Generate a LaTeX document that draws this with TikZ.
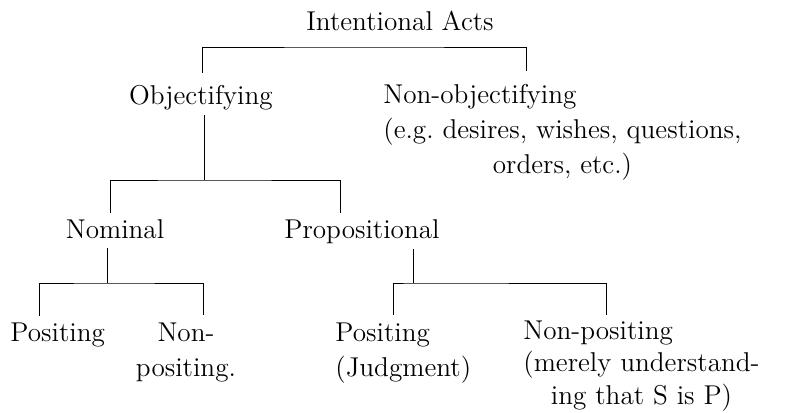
\documentclass[tikz,border=0pt]{standalone}
\usepackage{tikz}

\begin{document}
\begin{tikzpicture}[
    x=0.5pt, y=-0.5pt,         % pixel grid of the page
    label/.style={
        inner sep=0pt,
        font=\fontsize{13.6}{17.5}\selectfont
    },
    link/.style={line width=0.5pt}
]
\useasboundingbox (0,0) rectangle (786,412);

% --- Level 0 ---
\node[label, anchor=base] (acts) at (400,31) {Intentional Acts};

% --- Level 1 ---
\node[label, anchor=base] (obj) at (201,104) {Objectifying};
\node[label, anchor=base west] (nonobj) at (383,103) {%
    \begin{tabular}[t]{@{}l@{}}
    Non-objectifying\\
    (e.g.\ desires, wishes, questions,\\
    \multicolumn{1}{@{}c@{}}{orders, etc.)}
    \end{tabular}};

% --- Level 2 ---
\node[label, anchor=base] (nominal) at (115,238) {Nominal};
\node[label, anchor=base] (prop) at (362,238) {Propositional};

% --- Level 3 ---
\node[label, anchor=base west] (npos) at (10,341) {Positing};
\node[label, anchor=base] (nnonpos) at (186,341) {%
    \begin{tabular}[t]{@{}c@{}}Non-\\positing.\end{tabular}};
\node[label, anchor=base west] (ppos) at (335,341) {%
    \begin{tabular}[t]{@{}l@{}}Positing\\(Judgment)\end{tabular}};
\node[label, anchor=base west] (pnonpos) at (523,339) {%
    \renewcommand\arraystretch{0.94}%
    \begin{tabular}[t]{@{}l@{}}
    Non-positing\\
    (merely understand-\\
    \multicolumn{1}{@{}c@{}}{ing that S is P)}
    \end{tabular}};

% --- Bracket ends ---
\coordinate (tbar) at (364,47);
\coordinate (t1) at (202,73);
\coordinate (t2) at (526,71);
\coordinate (ostem) at (204,115);
\coordinate (obar) at (204,180);
\coordinate (o1) at (110,213);
\coordinate (o2) at (340,213);
\coordinate (nstem) at (107,248);
\coordinate (nbar) at (107,283);
\coordinate (n1) at (39,316);
\coordinate (n2) at (203,315);
\coordinate (pstem) at (413,249);
\coordinate (pbar) at (413,283);
\coordinate (p1) at (393,315);
\coordinate (p2) at (606,315);

% --- Brackets ---
\draw[link] (t1) |- (tbar) -| (t2);
\draw[link] (ostem) -- (obar);
\draw[link] (o1) |- (obar) -| (o2);
\draw[link] (nstem) -- (nbar);
\draw[link] (n1) |- (nbar) -| (n2);
\draw[link] (pstem) -- (pbar);
\draw[link] (p1) |- (pbar) -| (p2);

\end{tikzpicture}
\end{document}
